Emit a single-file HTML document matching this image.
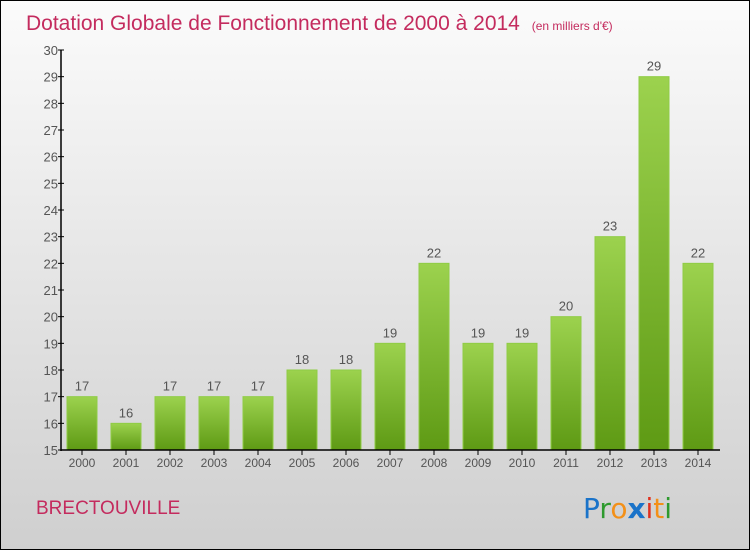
<!DOCTYPE html>
<html><head><meta charset="utf-8"><style>
body{margin:0;width:750px;height:550px;overflow:hidden;font-family:"Liberation Sans",sans-serif}
</style></head><body>
<svg id="c" width="750" height="550" xmlns="http://www.w3.org/2000/svg">
<defs>
<linearGradient id="bg" x1="0" y1="0" x2="0" y2="1"><stop offset="0" stop-color="#fbfbfb"/><stop offset="1" stop-color="#cfcfcf"/></linearGradient>
<linearGradient id="bar" x1="0" y1="0" x2="0" y2="1"><stop offset="0" stop-color="#9cd24e"/><stop offset="1" stop-color="#5e9a14"/></linearGradient>
</defs>
<rect x="0.5" y="0.5" width="749" height="549" fill="url(#bg)" stroke="#000"/>
<text x="26" y="30" font-size="21" fill="#c42b5e">Dotation Globale de Fonctionnement de 2000 à 2014 <tspan font-size="12" dx="6">(en milliers d'€)</tspan></text>
<text x="36" y="514" font-size="19" fill="#c42b5e">BRECTOUVILLE</text>
<text x="583" y="518" font-size="28" font-family="'DejaVu Sans',sans-serif"><tspan fill="#1a73c9">P</tspan><tspan fill="#2e9a2e">r</tspan><tspan fill="#f39018">o</tspan><tspan fill="#1a73c9" font-weight="bold">x</tspan><tspan fill="#e0301e">i</tspan><tspan fill="#f39018">t</tspan><tspan fill="#2e9a2e">i</tspan></text>
<g id="plot"></g>
</svg>
<script>
const years=["2000","2001","2002","2003","2004","2005","2006","2007","2008","2009","2010","2011","2012","2013","2014"];
const values=[17,16,17,17,17,18,18,19,22,19,19,20,23,29,22];
const yTicks=[15,16,17,18,19,20,21,22,23,24,25,26,27,28,29,30];
const NS="http://www.w3.org/2000/svg";
const g=document.getElementById('plot');
const y=v=>450-(v-15)*(400/15);
const x=i=>82+i*44;
function mk(t,a){const e=document.createElementNS(NS,t);for(const k in a)e.setAttribute(k,a[k]);g.appendChild(e);return e;}
yTicks.forEach(t=>{
 const l=mk('line',{x1:58,x2:64,y1:y(t),y2:y(t),stroke:'#000'});
 
 
 const tx=mk('text',{x:58,y:y(t)+5,'text-anchor':'end','font-size':13,fill:'#555'});
 tx.textContent=t;
 
 
});
values.forEach((v,i)=>{
 const r=mk('rect',{x:x(i)-15,y:y(v),width:30,height:450-y(v),fill:'url(#bar)',stroke:'#8fcc45','stroke-width':1});
 
 
 const vl=mk('text',{x:x(i),y:y(v)-6,'text-anchor':'middle','font-size':13,fill:'#555'});
 vl.textContent=v;
 
 
 const tk=mk('line',{x1:x(i),x2:x(i),y1:450,y2:455,stroke:'#000'});
 
 
 const xl=mk('text',{x:x(i),y:467,'text-anchor':'middle','font-size':12,fill:'#555'});
 xl.textContent=years[i];
 
 
});
const ya=mk('line',{x1:61,x2:61,y1:50,y2:451,stroke:'#000','stroke-width':1.5});


const xa=mk('line',{x1:61,x2:720,y1:450,y2:450,stroke:'#000','stroke-width':1.5});


</script>
</body></html>
